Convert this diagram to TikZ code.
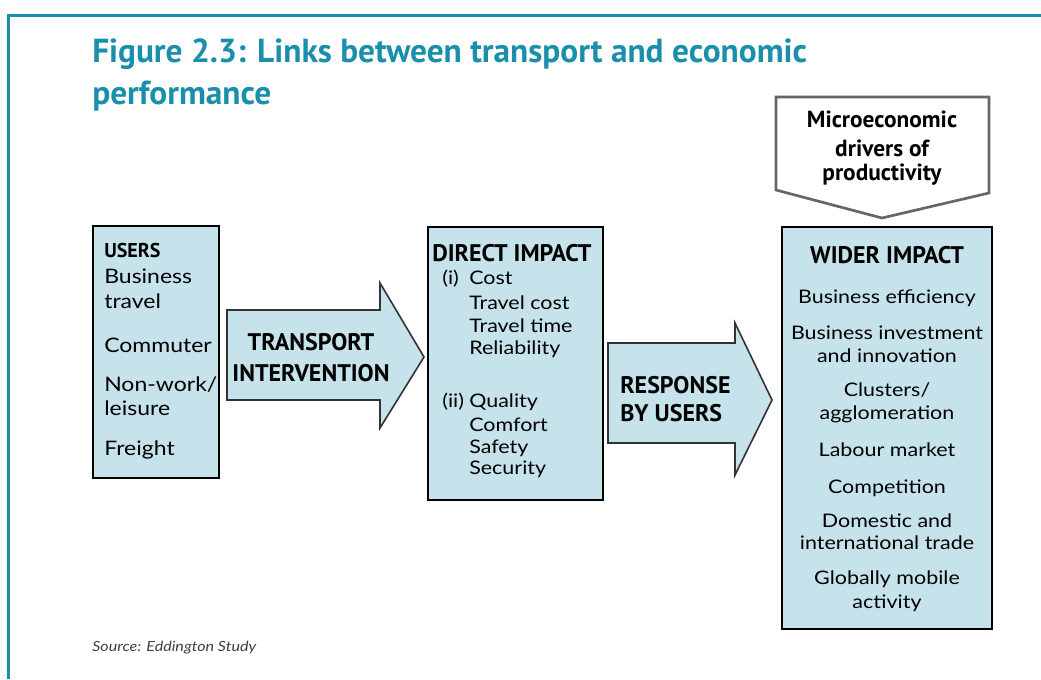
\documentclass[tikz,border=0pt]{standalone}
\usepackage{fontspec}
\setmainfont{Lato}[FakeStretch=1.15]
\newfontfamily\headfont{PT Sans}
\usetikzlibrary{positioning}
\definecolor{figteal}{HTML}{1A8FAB}
\definecolor{boxblue}{HTML}{C6E3EB}
\tikzset{panel/.style={draw=black, line width=2pt, fill=boxblue},
    blockarrow/.style={draw=black!80, line width=1.2pt, fill=boxblue, line join=miter},
    heading/.style={font=\headfont\bfseries\fontsize{18}{18}\selectfont, inner sep=0pt},
    item/.style={font=\fontsize{14}{14}\selectfont, inner sep=0pt, anchor=base west},
    useritem/.style={font=\fontsize{15}{15}\selectfont, inner sep=0pt, anchor=base west},
    citem/.style={font=\fontsize{14}{14}\selectfont, inner sep=0pt, anchor=base},
}

\begin{document}
\begin{tikzpicture}[x=0.75pt, y=-0.75pt]
\useasboundingbox (0,0) rectangle (1041,679);
\draw[figteal, line width=2.25pt] (1041,15) -- (8,15) -- (8,679); % frame
\node[anchor=base west, inner sep=0pt, text=figteal, font=\headfont\bfseries\fontsize{25}{25}\selectfont] (title1) at (92,62) {Figure 2.3: Links between transport and economic};
\node[anchor=base west, inner sep=0pt, text=figteal, font=\headfont\bfseries\fontsize{25}{25}\selectfont] (title2) at (92,104) {performance};
% microeconomic drivers
\draw[draw=black!60, line width=2pt, fill=white] (776,97) -- (989,97) -- (989,193) -- (882,218) -- (776,190) -- cycle;
\node[anchor=base, inner sep=0pt, font=\headfont\bfseries\fontsize{17.5}{17.5}\selectfont] (micro1) at (882,127) {Microeconomic};
\node[anchor=base, inner sep=0pt, font=\headfont\bfseries\fontsize{17.5}{17.5}\selectfont] (micro2) at (882,156) {drivers of};
\node[anchor=base, inner sep=0pt, font=\headfont\bfseries\fontsize{17.5}{17.5}\selectfont] (micro3) at (882,180) {productivity};
% users
\draw[panel] (93,226) rectangle (219,478);
\node[heading, anchor=base west, font=\headfont\bfseries\fontsize{15}{15}\selectfont] (users) at (104,257) {USERS};
\node[useritem] (business) at (104,283) {Business};
\node[useritem] (travel) at (104,308) {travel};
\node[useritem] (commuter) at (104,352) {Commuter};
\node[useritem] (nonwork) at (104,391) {Non-work/};
\node[useritem] (leisure) at (104,415) {leisure};
\node[useritem] (freight) at (104,455) {Freight};
% transport intervention
\draw[blockarrow] (227,310) -- (380,310) -- (380,283) -- (424,357) -- (380,428) -- (380,400) -- (227,400) -- cycle;
\node[heading, anchor=base] (transport) at (311,350) {TRANSPORT};
\node[heading, anchor=base] (intervention) at (311,381) {INTERVENTION};
% direct impact
\draw[panel] (428,227) rectangle (603,500);
\node[heading, anchor=base west] (direct) at (432,261) {DIRECT IMPACT};
\node[item] (cosnum) at (442,284) {(i)};
\node[item] (cost) at (469,284) {Cost};
\node[item] (tcost) at (469,309) {Travel cost};
\node[item] (ttime) at (469,332) {Travel time};
\node[item] (reliab) at (469,354) {Reliability};
\node[item] (qualnum) at (442,407) {(ii)};
\node[item] (quality) at (469,407) {Quality};
\node[item] (comfort) at (469,431) {Comfort};
\node[item] (safety) at (469,453) {Safety};
\node[item] (security) at (469,474) {Security};
% response by users
\draw[blockarrow] (608,343) -- (735,343) -- (735,323) -- (772,400) -- (735,475) -- (735,443) -- (608,443) -- cycle;
\node[heading, anchor=base west] (response) at (620,393) {RESPONSE};
\node[heading, anchor=base west] (byusers) at (620,421) {BY USERS};
% wider impact
\draw[panel] (782,227) rectangle (992,629);
\node[heading, anchor=base] (wider) at (887,263) {WIDER IMPACT};
\node[citem] (effic) at (887,303) {Business efficiency};
\node[citem] (invest) at (887,339) {Business investment};
\node[citem] (innov) at (887,362) {and innovation};
\node[citem] (clusters) at (887,396) {Clusters/};
\node[citem] (agglom) at (887,419) {agglomeration};
\node[citem] (labour) at (887,456) {Labour market};
\node[citem] (compet) at (887,493) {Competition};
\node[citem] (domestic) at (887,527) {Domestic and};
\node[citem] (trade) at (887,549) {international trade};
\node[citem] (globally) at (887,584) {Globally mobile};
\node[citem] (activity) at (887,608) {activity};
\node[anchor=base west, inner sep=0pt, font=\itshape\fontsize{10.5}{10.5}\selectfont, text=black!75] (source) at (92,651) {Source: Eddington Study};
\end{tikzpicture}
\end{document}
